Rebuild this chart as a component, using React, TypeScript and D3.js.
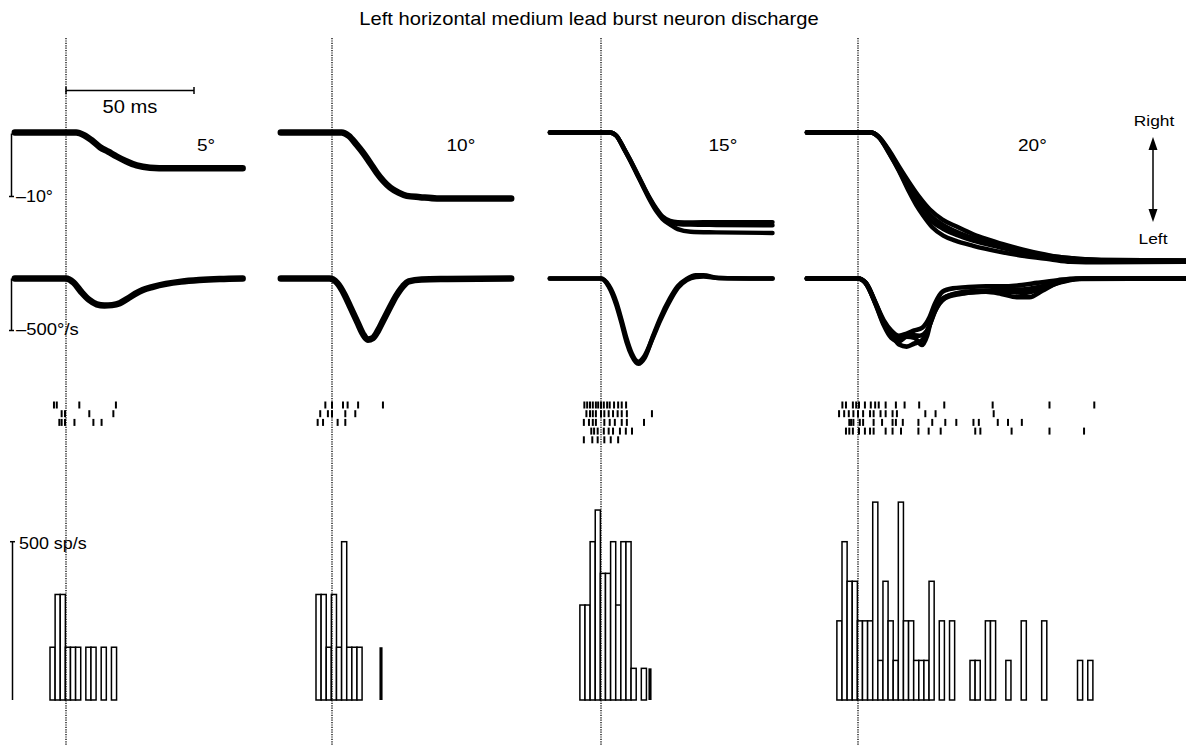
import React from 'react';
import * as d3 from 'd3';

type Pt = [number, number];

// ---------- text ----------
const title = 'Left horizontal medium lead burst neuron discharge';
const amplitudeLabels = ['5°', '10°', '15°', '20°'];
const timeBarLabel = '50 ms';
const posBarLabel = '–10°';
const velBarLabel = '–500°/s';
const rateBarLabel = '500 sp/s';
const dirLabels = ['Right', 'Left'];

// ---------- scale-bar values ----------
const timeBarMs = 50;
const posBarDeg = -10;
const velBarDegS = -500;
const rateBarSpS = 500;
const binMs = 2;
const binStartMs = -8.25;

// ---------- eye position (deg) vs time (ms from saccade onset), per trial ----------
const pos5: Pt[][] = [
  [[-20, 0], [0, 0], [4, 0], [7, -0.4], [10, -1.2], [13.3, -2.3], [16.5, -3.0], [19.8, -3.75], [23.5, -4.5], [27.6, -5.15], [32.8, -5.5], [40, -5.6], [69, -5.6]],
];
const pos10: Pt[][] = [
  [[-20, 0], [0, 0], [3.8, 0], [6.5, -0.5], [9.6, -1.9], [12.2, -3.2], [14.8, -4.7], [17.5, -6.3], [20.1, -7.6], [22.7, -8.6], [26, -9.4], [29.2, -9.9], [34.4, -10.1], [41, -10.3], [70, -10.3]],
];
const pos15: Pt[][] = [
  [[-20, 0], [0, 0], [3.5, 0], [6, -0.5], [9, -2.5], [11.3, -4.2], [14, -6.3], [16.5, -8.3], [19, -10.2], [21.8, -12], [24, -13.1], [27, -13.8], [30, -14.0], [35, -14.05], [45, -14.0], [67, -14.0]],
  [[-20, 0], [0, 0], [3.5, 0], [6, -0.5], [9, -2.55], [11.3, -4.25], [14, -6.4], [16.5, -8.4], [19, -10.3], [21.8, -12.2], [24, -13.3], [27, -14.0], [30, -14.3], [35, -14.4], [45, -14.45], [67, -14.5]],
  [[-20, 0], [0, 0], [3.5, 0], [6, -0.5], [9, -2.6], [11.3, -4.3], [14, -6.5], [16.5, -8.5], [19, -10.5], [21.8, -12.4], [24, -13.5], [27, -14.4], [30, -15.1], [35, -15.5], [45, -15.6], [67, -15.7]],
];
const pos20: Pt[][] = [
  [[-20, 0], [0, 0], [5, 0], [8, -0.6], [12.5, -3.0], [16, -5.3], [20, -7.8], [24, -10.1], [28, -12.0], [33, -13.6], [38.5, -14.7], [45, -15.9], [51.6, -16.8], [58, -17.6], [64.5, -18.3], [71, -18.9], [77.6, -19.4], [85, -19.7], [95, -19.9], [128, -20.0]],
  [[-20, 0], [0, 0], [5, 0], [8, -0.6], [12.5, -3.2], [16, -5.6], [20, -8.3], [24, -10.8], [28, -12.8], [33, -14.4], [38.5, -15.5], [45, -16.5], [51.6, -17.3], [58, -18.0], [64.5, -18.6], [77.6, -19.4], [95, -19.9], [128, -20.0]],
  [[-20, 0], [0, 0], [5, 0], [8, -0.7], [12.5, -3.5], [16, -6.0], [20, -9.3], [22.7, -11.3], [25.5, -13.0], [29, -14.8], [33.3, -16.1], [38, -16.9], [45, -17.7], [55, -18.6], [65, -19.3], [75, -19.8], [83, -20.2], [95, -20.3], [128, -20.2]],
  [[-20, 0], [0, 0], [5, 0], [8, -0.7], [12.5, -3.4], [16, -5.9], [20, -9.0], [24, -11.8], [28, -13.6], [33, -15.0], [38.5, -16.0], [45, -16.9], [55, -17.9], [65, -18.8], [77, -19.6], [90, -20.0], [128, -20.1]],
];

// ---------- eye velocity (deg/s) ----------
const vel5: Pt[][] = [
  [[-20, 0], [0, 0], [3, -40], [6, -130], [9, -205], [12, -248], [15, -260], [18, -256], [21, -238], [24, -195], [27, -148], [30, -110], [34, -80], [39, -52], [45, -30], [52, -15], [60, -5], [69, 0]],
];
const vel10: Pt[][] = [
  [[-20, 0], [-1, 0], [2, -42], [5, -160], [7, -265], [10, -425], [12, -530], [14, -588], [16, -572], [18, -500], [20, -403], [22.7, -275], [25, -170], [27.7, -75], [30, -27], [35, -10], [45, -5], [70, 0]],
];
const vel15: Pt[][] = [
  [[-20, 0], [0, 0], [3, -75], [6, -255], [8, -425], [10, -610], [12, -740], [14.6, -820], [17, -765], [20.4, -550], [23, -390], [27, -190], [30, -75], [33.5, -5], [37, 30], [40, 30], [46, 5], [67, 0]],
  [[-20, 0], [0, 0], [3, -65], [6, -230], [8, -400], [10, -580], [12, -720], [14.6, -800], [17, -745], [20.4, -560], [23, -410], [27, -210], [30, -90], [33.5, -15], [37, 15], [40, 20], [46, 5], [67, 0]],
];
const vel20: Pt[][] = [
  [[-20, 0], [0, 0], [3, -42], [7, -245], [10, -400], [13, -500], [16, -550], [19, -530], [22, -500], [25, -475], [28, -370], [30, -245], [33, -127], [37, -95], [42, -85], [50, -75], [58, -75], [64, -64], [70, -42], [78, -16], [85, 0], [128, 0]],
  [[-20, 0], [0, 0], [3, -42], [7, -255], [10, -445], [13, -570], [16, -605], [19, -560], [22, -570], [25, -640], [27, -550], [29, -350], [32, -212], [36, -160], [42, -138], [50, -127], [56, -148], [62, -180], [67, -180], [72, -117], [78, -42], [85, -5], [128, 0]],
  [[-20, 0], [0, 0], [3, -45], [7, -250], [10, -430], [13, -530], [16, -635], [19, -655], [22, -625], [25, -595], [28, -445], [31, -265], [35, -170], [42, -127], [50, -117], [58, -127], [65, -138], [72, -95], [80, -32], [88, 0], [128, 0]],
  [[-20, 0], [0, 0], [3, -40], [7, -240], [10, -420], [13, -510], [16, -572], [20, -540], [24, -550], [27, -500], [30, -318], [34, -190], [40, -148], [48, -127], [56, -106], [64, -106], [72, -74], [80, -21], [90, 0], [128, 0]],
];

// ---------- spike rasters (ms), one array per trial ----------
const raster5: number[][] = [
  [-4.7, -3.6, 5.2, 19.5],
  [-1.7, -0.4, 9.1, 18.5],
  [-2.6, -1.7, -0.4, 3.3, 10.7, 13.9],
];
const raster10: number[][] = [
  [-2.6, 0, 4.3, 6.1, 10.2, 19.9],
  [-4.6, -1.6, 0, 5.2, 9.1],
  [-5.6, -3.5, 2.2, 5.2],
];
const raster15: number[][] = [
  [-6.5, -5.4, -4.3, -3.2, -2, -1.1, 0, 1.1, 2.4, 3.4, 5.1, 6.7, 8.1, 9.8],
  [-5.7, -4.3, -3.2, -2, 0, 1.3, 3, 4.7, 6.5, 8.1, 10.1, 19.9],
  [-6.7, -4.7, -3.2, -2, 1.3, 3.4, 5.4, 8.1, 10.1, 16.8],
  [-3.8, -2.7, -1.3, 1.1, 3, 4.7, 7.4, 9.7, 12.1],
  [-6.7, -3.4, -1.3, 1.3, 3.8, 6.7],
];
const raster20: number[][] = [
  [-6.1, -4.7, -2, -0.7, 0.4, 2.7, 5, 6.7, 8.1, 10.8, 14.8, 18.2, 23.9, 33.7, 52.6, 74.8, 92.3],
  [-7.4, -5.4, -3.6, -1.8, 0, 2, 4.7, 6.1, 8.8, 10.8, 13.5, 15.2, 26.3, 30.3, 53],
  [-3.4, -2.7, -1.8, 0.7, 2, 6.1, 9.4, 13.5, 14.8, 17.5, 23.6, 29, 34.1, 38.4, 45.1, 47.2, 54.6, 58.6, 64],
  [-4.7, -3.4, -2, 0.4, 2.7, 4.7, 6.1, 10.8, 13.5, 16.8, 23.6, 27.6, 32.3, 45.8, 47.8, 60, 74.8, 88.3],
];

// ---------- histogram spike counts per 2 ms bin (bins start at -8.25 ms) ----------
const hist5 = [0, 1, 2, 2, 1, 1, 1, 0, 1, 1, 0, 1, 0, 1];
const hist10 = [0, 2, 2, 1, 2, 1, 3, 1, 1, 1, 0, 0, 0, 1];
const hist15 = [3, 3, 5, 6, 4, 4, 5, 3, 5, 5, 1, 0, 1, 1];
const hist20 = [2, 4, 3, 3, 2, 2, 2, 5, 1, 3, 2, 1, 5, 2, 2, 1, 1, 1, 3, 0, 2, 0, 2, 0, 0, 0, 1, 1, 0, 2, 2, 0, 0, 1, 0, 0, 2, 0, 0, 0, 2, 0, 0, 0, 0, 0, 0, 1, 0, 1];

// ---------- layout (pixels) ----------
const W = 1186;
const H = 746;
const PX_PER_MS = 2.56;
const panelZeroX = [66, 332, 601, 858];
const panelTimeRange: Pt[] = [[-20, 69], [-20, 70], [-20, 67], [-20, 128]];
const solidBins = [[], [13], [13], []];
const labelX = [197, 446.5, 708.5, 1018];
const POS_Y0 = 132.5;
const POS_PX_PER_DEG = 6.4;
const VEL_Y0 = 278.5;
const VEL_PX_PER_DEGS = 0.104;
const HIST_Y0 = 700;
const HIST_PX_PER_SPS = 158.3 / 500;
const RASTER_Y0 = 405;
const RASTER_DY = 8.7;
const FONT = "'Liberation Sans', Arial, Helvetica, sans-serif";

const Txt = ({ x, y, size, anchor = 'start', children }: any) => (
  <text
    transform={`translate(${x},${y}) scale(1.12,1)`}
    fontSize={size}
    textAnchor={anchor}
    fontFamily={FONT}
    fill="#000"
  >
    {children}
  </text>
);

export default function App() {
  React.useEffect(() => {
    document.body.style.margin = '0';
  }, []);

  const yPos = d3.scaleLinear().domain([0, 1]).range([POS_Y0, POS_Y0 - POS_PX_PER_DEG]);
  const yVel = d3.scaleLinear().domain([0, 1]).range([VEL_Y0, VEL_Y0 - VEL_PX_PER_DEGS]);
  const yHist = d3.scaleLinear().domain([0, 1]).range([HIST_Y0, HIST_Y0 - HIST_PX_PER_SPS]);

  const panels = [
    { pos: pos5, vel: vel5, raster: raster5, hist: hist5 },
    { pos: pos10, vel: vel10, raster: raster10, hist: hist10 },
    { pos: pos15, vel: vel15, raster: raster15, hist: hist15 },
    { pos: pos20, vel: vel20, raster: raster20, hist: hist20 },
  ];

  const xScales = panels.map((_, i) =>
    d3
      .scaleLinear()
      .domain(panelTimeRange[i])
      .range(panelTimeRange[i].map((t) => panelZeroX[i] + t * PX_PER_MS))
  );

  const x1 = xScales[0];

  return (
    <svg
      width={W}
      height={H}
      viewBox={`0 0 ${W} ${H}`}
      style={{ position: 'absolute', left: 0, top: 0, display: 'block', background: '#fff' }}
    >
      <rect x={0} y={0} width={W} height={H} fill="#fff" />
      <Txt x={589} y={24.5} size={18} anchor="middle">{title}</Txt>

      {/* histograms */}
      {panels.map((p, i) => {
        const xs = xScales[i];
        const nTrials = p.raster.length;
        const bw = xs(binMs) - xs(0);
        return (
          <g key={'h' + i}>
            {p.hist.map((c, k) => {
              if (c === 0) return null;
              const t0 = binStartMs + k * binMs;
              const rate = c / (nTrials * binMs / 1000);
              const y = yHist(rate);
              const solid = (solidBins[i] as number[]).includes(k);
              if (solid) {
                return (
                  <rect key={k} x={xs(t0) + 2} y={y} width={bw - 2} height={HIST_Y0 - y} fill="#000" />
                );
              }
              return (
                <rect key={k} x={xs(t0)} y={y} width={bw} height={HIST_Y0 - y} fill="#fff" stroke="#000" strokeWidth={1.5} />
              );
            })}
          </g>
        );
      })}

      {/* saccade onset dotted lines */}
      {panels.map((_, i) => {
        const x = xScales[i](0);
        return <line key={'d' + i} x1={x} x2={x} y1={38} y2={H} stroke="#000" strokeWidth={1.3} strokeDasharray="1.2,1.2" />;
      })}

      {/* position & velocity traces */}
      {panels.map((p, i) => {
        const xs = xScales[i];
        const lp = d3.line<Pt>().x((d) => xs(d[0])).y((d) => yPos(d[1])).curve(d3.curveMonotoneX);
        const lv = d3.line<Pt>().x((d) => xs(d[0])).y((d) => yVel(d[1])).curve(d3.curveMonotoneX);
        const swP = p.pos.length > 1 ? 4.4 : 6.5;
        const swV = p.vel.length > 1 ? 4.6 : 6.5;
        return (
          <g key={'t' + i} fill="none" stroke="#000" strokeLinecap="round" strokeLinejoin="round">
            {p.pos.map((tr, j) => <path key={'p' + j} d={lp(tr) || ''} strokeWidth={swP} />)}
            {p.vel.map((tr, j) => <path key={'v' + j} d={lv(tr) || ''} strokeWidth={swV} />)}
          </g>
        );
      })}

      {/* rasters */}
      {panels.map((p, i) => {
        const xs = xScales[i];
        return (
          <g key={'r' + i} stroke="#000" strokeWidth={2}>
            {p.raster.map((row, j) =>
              row.map((t, k) => {
                const y = RASTER_Y0 + j * RASTER_DY;
                return <line key={j + '-' + k} x1={xs(t)} x2={xs(t)} y1={y - 3.5} y2={y + 3.5} />;
              })
            )}
          </g>
        );
      })}

      {/* amplitude labels */}
      {amplitudeLabels.map((l, i) => (
        <Txt key={'a' + i} x={labelX[i]} y={150.5} size={17}>{l}</Txt>
      ))}

      {/* time scale bar */}
      <g stroke="#000" strokeWidth={1.5}>
        <line x1={x1(0)} x2={x1(timeBarMs)} y1={90.5} y2={90.5} />
        <line x1={x1(0)} x2={x1(0)} y1={87} y2={94} />
        <line x1={x1(timeBarMs)} x2={x1(timeBarMs)} y1={87} y2={94} />
      </g>
      <Txt x={(x1(0) + x1(timeBarMs)) / 2} y={113} size={18} anchor="middle">{timeBarLabel}</Txt>

      {/* vertical scale bars */}
      <g stroke="#000" strokeWidth={1.5}>
        <line x1={11.5} x2={11.5} y1={yPos(0) + 1} y2={yPos(posBarDeg)} />
        <line x1={9} x2={14} y1={yPos(posBarDeg)} y2={yPos(posBarDeg)} />
        <line x1={11.5} x2={11.5} y1={yVel(0)} y2={yVel(velBarDegS)} />
        <line x1={9} x2={14} y1={yVel(velBarDegS)} y2={yVel(velBarDegS)} />
        <line x1={12.5} x2={12.5} y1={yHist(rateBarSpS)} y2={HIST_Y0} />
        <line x1={10} x2={15} y1={yHist(rateBarSpS)} y2={yHist(rateBarSpS)} />
      </g>
      <Txt x={16} y={201.5} size={16}>{posBarLabel}</Txt>
      <Txt x={16} y={335} size={16.5}>{velBarLabel}</Txt>
      <Txt x={19} y={548.5} size={16}>{rateBarLabel}</Txt>

      {/* direction arrow */}
      <g stroke="#000" strokeWidth={1.5} fill="#000">
        <line x1={1153} x2={1153} y1={146} y2={213} />
        <path d="M1153,137 L1148.5,150 L1157.5,150 Z" stroke="none" />
        <path d="M1153,222 L1148.5,209 L1157.5,209 Z" stroke="none" />
      </g>
      <Txt x={1154} y={126} size={15.5} anchor="middle">{dirLabels[0]}</Txt>
      <Txt x={1153} y={244} size={15.5} anchor="middle">{dirLabels[1]}</Txt>
    </svg>
  );
}
